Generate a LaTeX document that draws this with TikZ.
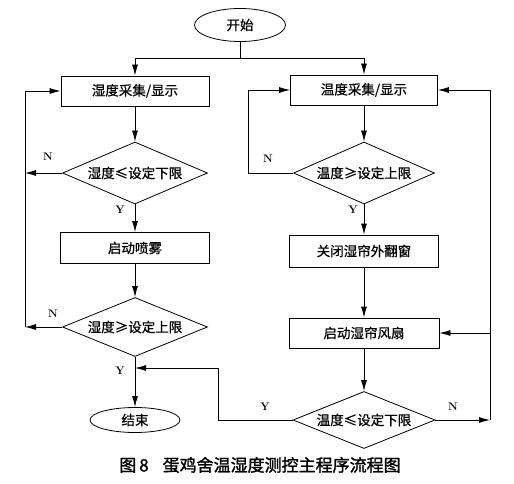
\documentclass[tikz,border=0pt]{standalone}
\usepackage{fontspec}
\newfontfamily\cjk[FakeBold=0.6]{Noto Sans CJK SC}
\newfontfamily\cjkb[FakeBold=1.5]{Noto Sans CJK SC}
\usetikzlibrary{shapes.geometric,arrows.meta}
\begin{document}
\begin{tikzpicture}[x=1pt,y=-1pt,line width=0.8pt,
  txt/.style={font=\cjk\fontsize{13.5}{15}\selectfont},
  box/.style={draw,rectangle,inner sep=0pt,minimum height=30pt,txt},
  dia/.style={draw,diamond,shape aspect=2.3,inner sep=0pt,txt},
  term/.style={draw,ellipse,inner sep=0pt,txt},
  arr/.style={-{Latex[length=11pt,width=6pt]}},
  lbl/.style={font=\fontsize{11}{12}\selectfont\bfseries,inner sep=1pt}]
\useasboundingbox (0,0) rectangle (514,484);
% left column
\node[term,minimum width=91pt,minimum height=33pt] (start) at (240,25) {开始};
\node[box,minimum width=148pt] (b1) at (135,91) {湿度采集/显示};
\node[dia,minimum width=145pt,minimum height=62pt] (d1) at (135,173) {湿度≤设定下限};
\node[box,minimum width=149pt,minimum height=31pt] (b2) at (135,248) {启动喷雾};
\node[dia,minimum width=145pt,minimum height=59pt] (d2) at (135,327) {湿度≥设定上限};
\node[term,minimum width=90pt,minimum height=25pt] (end) at (135,420) {结束};
% right column
\node[box,minimum width=147pt] (b3) at (364,90) {温度采集/显示};
\node[dia,minimum width=141pt,minimum height=62pt] (d3) at (364,173) {温度≥设定上限};
\node[box,minimum width=149pt,minimum height=32pt] (b4) at (364,251) {关闭湿帘外翻窗};
\node[box,minimum width=150pt,minimum height=30pt] (b5) at (364,333) {启动湿帘风扇};
\node[dia,minimum width=142pt,minimum height=57pt] (d4) at (364,420) {温度≤设定下限};
% helper coordinates
\coordinate (jn) at (240,58);
\coordinate (lx) at (25,0);
\coordinate (rx) at (248,0);
\coordinate (fx) at (490,0);
\coordinate (ym) at (218,368);
% labels
\node[lbl] (n1) at (48,157) {N};
\node[lbl] (y1) at (120,210) {Y};
\node[lbl] (n2) at (53,314) {N};
\node[lbl] (y2) at (120,371) {Y};
\node[lbl] (n3) at (268,159) {N};
\node[lbl] (y3) at (353,210) {Y};
\node[lbl] (y4) at (265,407) {Y};
\node[lbl] (n4) at (453,407) {N};
% connectors
\draw (start.south) -- (jn);
\draw[arr] (jn) -| (b1.north);
\draw[arr] (jn) -| (b3.north);
\draw[arr] (b1) -- (d1);
\draw[arr] (d1) -- (b2);
\draw[arr] (b2) -- (d2);
\draw[arr] (d2) -- (end);
\draw[arr] (d1.west) -- (d1.west -| lx);
\draw[arr] (d2.west) -- (d2.west -| lx);
\draw[arr] (d2.west -| lx) |- (b1.west);
\draw[arr] (b3) -- (d3);
\draw[arr] (d3) -- (b4);
\draw[arr] (b4) -- (b5);
\draw[arr] (b5) -- (d4);
\draw[arr] (d3.west) -- (d3.west -| rx) |- (b3.west);
\draw[arr] (d4.east) -- (d4.east -| fx);
\draw[arr] (d4.east -| fx) |- (b3.east);
\draw[arr] (b5.east -| fx) -- (b5.east);
\draw[arr] (d4.west) -- (d4.west -| ym) -- (ym) -- (ym -| end.north);
% caption
\node[font=\cjkb\fontsize{17}{19}\selectfont,anchor=west,inner sep=0pt] (cap) at (119,465) {图\,8\hspace{14pt}蛋鸡舍温湿度测控主程序流程图};
\end{tikzpicture}
\end{document}
